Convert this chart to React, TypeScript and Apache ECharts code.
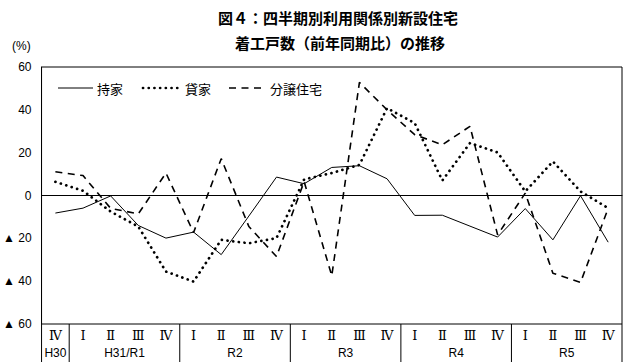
import React, { useEffect, useRef } from "react";
import * as echarts from "echarts";

const quarters = ["Ⅳ", "Ⅰ", "Ⅱ", "Ⅲ", "Ⅳ", "Ⅰ", "Ⅱ", "Ⅲ", "Ⅳ", "Ⅰ", "Ⅱ", "Ⅲ", "Ⅳ", "Ⅰ", "Ⅱ", "Ⅲ", "Ⅳ", "Ⅰ", "Ⅱ", "Ⅲ", "Ⅳ"];
const yearNames = ["H30", "H31/R1", "R2", "R3", "R4", "R5"];
const yearCounts = [1, 4, 4, 4, 4, 4];

const mochiie = [-8.2, -5.9, -0.2, -14, -19.9, -17.1, -27.6, -9.6, 8.6, 5.5, 13.1, 13.9, 7.8, -9.3, -9.2, -14.3, -19.4, -6.1, -20.7, -0.1, -21.8];
const kashiya = [6.4, 2.2, -7.5, -14.5, -35.5, -40.2, -20.7, -22.3, -19.9, 7.5, 10.5, 14.3, 40.8, 33.8, 7, 24.5, 20.1, 1.9, 15.9, 1.9, -5.9];
const bunjo = [11.1, 9.3, -6, -8.6, 10.5, -17.3, 17.2, -14.5, -28.5, 6.5, -37.5, 52.8, 40, 28.4, 23.7, 32.3, -18.4, 1.1, -36.3, -40.6, -6];

const seriesNames = ["持家", "貸家", "分譲住宅"];

const SANS = "'Liberation Sans', Arial, 'Noto Sans CJK JP', sans-serif";
const JP = "'Noto Sans CJK JP', sans-serif";

export default function App() {
  const ref = useRef<HTMLDivElement>(null);
  useEffect(() => {
    if (!ref.current) return;
    const chart = echarts.init(ref.current, null, { renderer: "svg" });
    const gridLeft = 41;
    const gridRight = 8;
    const gridTop = 67;
    const gridBottom = 38;
    const option: any = {
      animation: false,
      backgroundColor: "#fff",
      grid: {
        left: gridLeft,
        right: gridRight,
        top: gridTop,
        bottom: gridBottom,
        show: true,
        borderColor: "#000",
        borderWidth: 1,
        containLabel: false,
      },
      xAxis: {
        type: "category",
        data: quarters,
        boundaryGap: true,
        axisLine: { show: true, lineStyle: { color: "#000", width: 1 } },
        axisTick: { show: false },
        axisLabel: {
          color: "#000",
          fontSize: 13,
          fontFamily: "'DejaVu Serif', 'Liberation Serif', serif",
          margin: 5,
          interval: 0,
        },
        splitLine: { show: false },
      },
      yAxis: {
        type: "value",
        min: -60,
        max: 60,
        interval: 20,
        axisLine: { show: true, lineStyle: { color: "#000", width: 1 } },
        axisTick: { show: false },
        splitLine: { show: false },
        axisLabel: {
          color: "#000",
          fontSize: 12,
          fontFamily: SANS,
          margin: 10,
          formatter: (v: number) => (v < 0 ? "▲ " + Math.abs(v) : String(v)),
        },
      },
      series: [
        {
          name: seriesNames[0],
          type: "line",
          data: mochiie,
          symbol: "none",
          lineStyle: { color: "#000", width: 1, type: "solid" },
          markLine: {
            silent: true,
            symbol: "none",
            label: { show: false },
            lineStyle: { color: "#000", width: 1.2, type: "solid" },
            data: [{ yAxis: 0 }],
          },
          z: 3,
        },
        {
          name: seriesNames[1],
          type: "line",
          data: kashiya,
          symbol: "none",
          lineStyle: { color: "#000", width: 2.7, type: [0.1, 5.6], cap: "round" },
          z: 2,
        },
        {
          name: seriesNames[2],
          type: "line",
          data: bunjo,
          symbol: "none",
          lineStyle: { color: "#000", width: 1.6, type: [7, 5.5] },
          z: 2,
        },
      ],
    };
    chart.setOption(option);

    const c0 = chart.convertToPixel({ xAxisIndex: 0 }, 0) as number;
    const c1 = chart.convertToPixel({ xAxisIndex: 0 }, 1) as number;
    const bw = c1 - c0;
    const left = c0 - bw / 2;
    const yBottom = 362 - gridBottom;
    const graphics: any[] = [];
    let start = 0;
    yearCounts.forEach((cnt, yi) => {
      const x0 = left + start * bw;
      const x1 = left + (start + cnt) * bw;
      graphics.push({
        type: "text",
        x: (x0 + x1) / 2,
        y: yBottom + 29,
        style: {
          text: yearNames[yi],
          fill: "#000",
          font: "12px " + SANS,
          textAlign: "center",
          textVerticalAlign: "middle",
        },
      });
      graphics.push({
        type: "line",
        shape: { x1: x1, y1: yBottom, x2: x1, y2: 362 },
        style: { stroke: "#000", lineWidth: 1 },
      });
      start += cnt;
    });
    graphics.push({
      type: "line",
      shape: { x1: left, y1: yBottom, x2: left, y2: 362 },
      style: { stroke: "#000", lineWidth: 1 },
    });
    // title
    graphics.push({
      type: "text",
      x: 338,
      y: 17,
      style: {
        text: "図４：四半期別利用関係別新設住宅",
        fill: "#000",
        font: "bold 15px " + JP,
        textAlign: "center",
        textVerticalAlign: "middle",
      },
    });
    graphics.push({
      type: "text",
      x: 340,
      y: 42,
      style: {
        text: "着工戸数（前年同期比）の推移",
        fill: "#000",
        font: "bold 15px " + JP,
        textAlign: "center",
        textVerticalAlign: "middle",
      },
    });
    graphics.push({
      type: "text",
      x: 12,
      y: 46,
      style: {
        text: "(%)",
        fill: "#000",
        font: "12px " + SANS,
        textAlign: "left",
        textVerticalAlign: "middle",
      },
    });
    // legend
    const ly = 88;
    const legendItems = [
      { x1: 58, x2: 93, tx: 97, dash: null as any, w: 1, cap: "butt" },
      { x1: 143, x2: 181, tx: 185, dash: [0.1, 5.6], w: 2.7, cap: "round" },
      { x1: 229, x2: 262, tx: 270, dash: [7, 5.5], w: 1.6, cap: "butt" },
    ];
    legendItems.forEach((it, i) => {
      graphics.push({
        type: "line",
        shape: { x1: it.x1, y1: ly, x2: it.x2, y2: ly },
        style: { stroke: "#000", lineWidth: it.w, lineDash: it.dash, lineCap: it.cap },
      });
      graphics.push({
        type: "text",
        x: it.tx,
        y: ly,
        style: {
          text: seriesNames[i],
          fill: "#000",
          font: "13px " + JP,
          textAlign: "left",
          textVerticalAlign: "middle",
        },
      });
    });
    chart.setOption({ graphic: graphics });

    return () => chart.dispose();
  }, []);
  return <div ref={ref} style={{ width: 630, height: 362, position: "absolute", left: 0, top: 0 }} />;
}
